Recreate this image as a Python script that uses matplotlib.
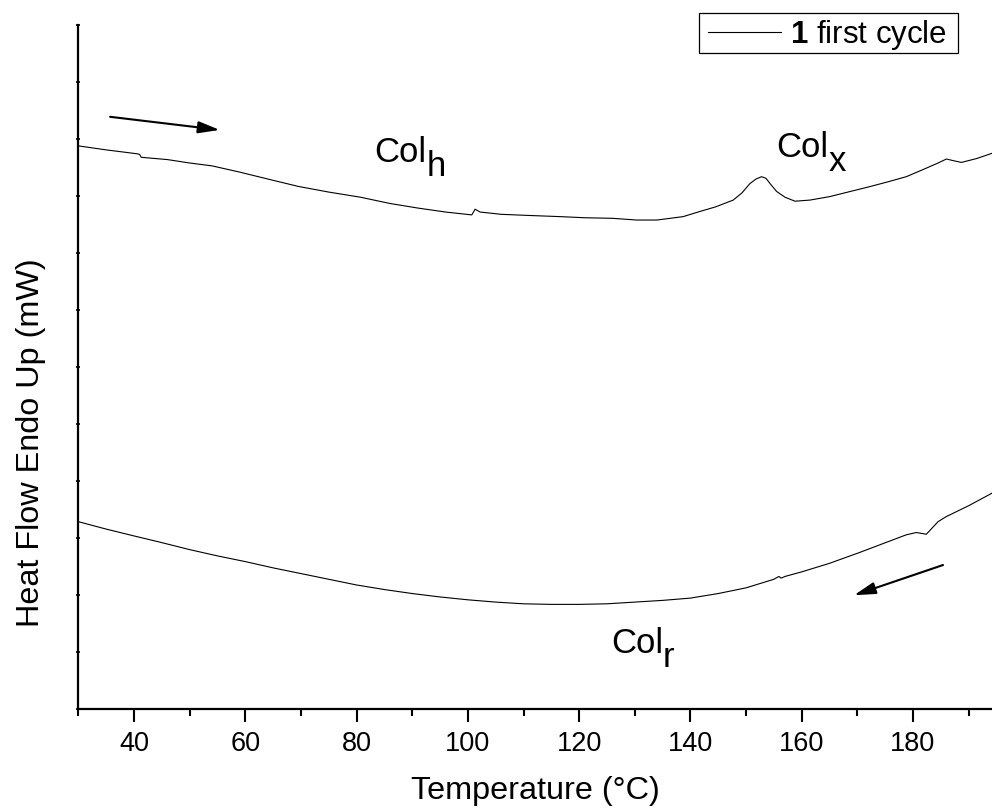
import matplotlib
matplotlib.use("Agg")
import matplotlib.pyplot as plt
from matplotlib.patches import Rectangle
from matplotlib.ticker import MultipleLocator, NullFormatter

plt.rcParams['font.family'] = ['Liberation Sans', 'DejaVu Sans']
plt.rcParams['mathtext.fontset'] = 'custom'
plt.rcParams['mathtext.rm'] = 'Liberation Sans'
plt.rcParams['mathtext.bf'] = 'Liberation Sans:bold'

# Heating (first cycle) curve
temp_heat = [30, 35, 40.7, 41.0, 41.3, 46, 50, 54, 59, 64, 69.5, 75, 80.7, 86, 91, 96,
             100.7, 101.3, 102.2, 106, 111, 116.5, 121, 126, 130.3, 134, 138.7, 141.7,
             144.5, 147.7, 149.3, 150.7, 151.8, 152.8, 153.6, 154.3, 155.5, 157, 158.8,
             161.5, 165, 168.7, 172, 175.5, 178.8, 182.4, 184.5, 186, 187.3, 188.7,
             191.5, 194.2]
heat_flow_heat = [9.88, 9.81, 9.74, 9.73, 9.68, 9.64, 9.58, 9.53, 9.42, 9.30, 9.17, 9.07,
                  8.98, 8.87, 8.79, 8.72, 8.67, 8.77, 8.72, 8.68, 8.66, 8.64, 8.62, 8.61,
                  8.58, 8.58, 8.64, 8.73, 8.81, 8.93, 9.06, 9.22, 9.30, 9.34, 9.31, 9.22,
                  9.08, 8.98, 8.91, 8.93, 8.99, 9.08, 9.16, 9.25, 9.34, 9.49, 9.58, 9.65,
                  9.62, 9.59, 9.66, 9.75]

# Cooling curve
temp_cool = [30, 35, 40, 44.7, 50, 55, 60, 65, 70, 75, 80, 85, 90, 95, 100, 105, 110,
             115, 120, 125, 130, 135, 140, 145, 150, 155, 155.9, 156.3, 157, 160, 165,
             170.4, 175, 178.8, 180.6, 182.4, 184.5, 186, 190, 194.2]
heat_flow_cool = [3.29, 3.16, 3.04, 2.93, 2.80, 2.69, 2.59, 2.48, 2.38, 2.28, 2.18, 2.10,
                  2.03, 1.97, 1.92, 1.88, 1.85, 1.84, 1.84, 1.85, 1.88, 1.91, 1.95, 2.03,
                  2.13, 2.28, 2.33, 2.30, 2.33, 2.41, 2.56, 2.75, 2.92, 3.06, 3.10, 3.07,
                  3.29, 3.38, 3.57, 3.79]

legend_label = r'$\mathbf{1}$ first cycle'
phase_labels = [('Col', 'h', 83.2, 9.60), ('Col', 'x', 155.4, 9.69), ('Col', 'r', 125.7, 0.98)]
arrows = [((35.7, 10.39), (55.4, 10.16)), ((185.4, 2.53), (169.4, 2.00))]

W, H = 992, 809
fig = plt.figure(figsize=(W / 100, H / 100), dpi=100)
ax = fig.add_axes([78.4 / W, 99.7 / H, (W - 78.4) / W, (709.3 - 25) / H])

ax.plot(temp_heat, heat_flow_heat, color='black', lw=0.8, label=legend_label)
ax.plot(temp_cool, heat_flow_cool, color='black', lw=0.8)

ax.set_xlim(30, 194.2)
ax.set_ylim(0, 12)

for s in ['top', 'right']:
    ax.spines[s].set_visible(False)
for s in ['left', 'bottom']:
    ax.spines[s].set_linewidth(1.6)

ax.xaxis.set_major_locator(MultipleLocator(20))
ax.xaxis.set_minor_locator(MultipleLocator(10))
ax.yaxis.set_major_locator(MultipleLocator(1))
ax.yaxis.set_major_formatter(NullFormatter())
ax.tick_params(axis='x', which='major', direction='out', length=9.5, width=1.5,
               labelsize=19.5, pad=6)
ax.tick_params(axis='x', which='minor', direction='out', length=5, width=1.5)
ax.tick_params(axis='y', which='major', direction='inout', length=3, width=1.2)

ax.set_xlabel('Temperature (°C)', fontsize=23.3, labelpad=14)
ax.set_ylabel('Heat Flow Endo Up (mW)', fontsize=23.3)
ax.yaxis.set_label_coords(-0.036, 0.389)

for main, sub, x, y in phase_labels:
    t = ax.text(x, y, main, fontsize=25, ha='left', va='baseline')
    ax.annotate(sub, xy=(1, 0), xycoords=t, xytext=(0, -10), textcoords='offset points',
                fontsize=25, ha='left', va='bottom')

for tail, tip in arrows:
    ax.annotate('', xy=tip, xytext=tail,
                arrowprops=dict(arrowstyle='-|>,head_length=0.65,head_width=0.18',
                                color='black', lw=1.5, mutation_scale=20,
                                shrinkA=0, shrinkB=0))

# Legend content (handle + text), with a separate square frame around it
leg = ax.legend(loc='center', bbox_to_anchor=(827.5 / W, 1 - 34.5 / H),
                bbox_transform=fig.transFigure, borderaxespad=0, fontsize=22.5,
                frameon=False, borderpad=0, handlelength=2.33, handletextpad=0.29)
frame = Rectangle((699 / W, 1 - 53.3 / H), (958 - 699) / W, 40 / H,
                  transform=fig.transFigure, fill=False, edgecolor='black', lw=0.9)
fig.add_artist(frame)

fig.savefig('out.png', dpi=100)
